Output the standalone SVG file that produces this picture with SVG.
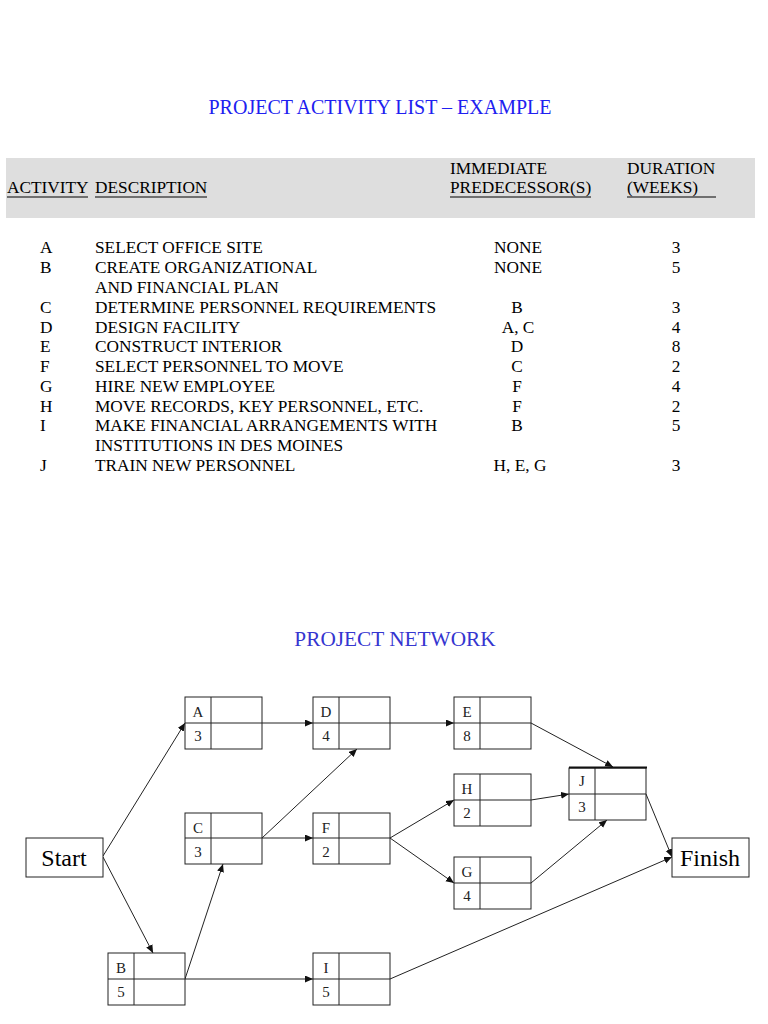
<svg xmlns="http://www.w3.org/2000/svg" width="768" height="1024" viewBox="0 0 768 1024">
<style>
.t{font-family:"Liberation Serif","Times New Roman",serif;font-size:17.3px;fill:#000}
.title{font-family:"Liberation Serif","Times New Roman",serif;font-size:20px}
.c{text-anchor:middle}
.ul{stroke:#000;stroke-width:1}
.box{fill:#fff;stroke:#222;stroke-width:1}
.div{stroke:#222;stroke-width:1;fill:none}
.nl{font-family:"Liberation Serif","Times New Roman",serif;font-size:15px;fill:#222;text-anchor:middle}
.big{font-family:"Liberation Serif","Times New Roman",serif;font-size:24px;fill:#000;text-anchor:middle}
.edge{stroke:#222;stroke-width:1;fill:none;marker-end:url(#arr)}
</style>
<defs>
<marker id="arr" markerUnits="userSpaceOnUse" markerWidth="9" markerHeight="8" refX="8" refY="3.5" orient="auto">
<path d="M0,0 L8,3.5 L0,7 Z" fill="#111"/>
</marker>
</defs>
<rect width="768" height="1024" fill="#fff"/>

<g id="table">
<text class="title c" x="380" y="114" fill="#2020f0">PROJECT ACTIVITY LIST – EXAMPLE</text>
<rect x="6" y="158" width="749" height="60" fill="#dedede"/>
<text class="t" x="7" y="193">ACTIVITY</text>
<text class="t" x="95" y="193">DESCRIPTION</text>
<text class="t" x="450" y="174">IMMEDIATE</text>
<text class="t" x="450" y="193">PREDECESSOR(S)</text>
<text class="t" x="627" y="174">DURATION</text>
<text class="t" x="627" y="193">(WEEKS)</text>
<line class="ul" x1="7" y1="197" x2="88" y2="197"/>
<line class="ul" x1="95" y1="197" x2="207" y2="197"/>
<line class="ul" x1="450" y1="197" x2="591" y2="197"/>
<line class="ul" x1="627" y1="197" x2="716" y2="197"/>

<text class="t" x="40" y="253">A</text><text class="t" x="95" y="253">SELECT OFFICE SITE</text><text class="t c" x="518" y="253">NONE</text><text class="t c" x="676" y="253">3</text>
<text class="t" x="40" y="273">B</text><text class="t" x="95" y="273">CREATE ORGANIZATIONAL</text><text class="t c" x="518" y="273">NONE</text><text class="t c" x="676" y="273">5</text>
<text class="t" x="95" y="293">AND FINANCIAL PLAN</text>
<text class="t" x="40" y="312.5">C</text><text class="t" x="95" y="312.5">DETERMINE PERSONNEL REQUIREMENTS</text><text class="t c" x="517" y="312.5">B</text><text class="t c" x="676" y="312.5">3</text>
<text class="t" x="40" y="332.5">D</text><text class="t" x="95" y="332.5">DESIGN FACILITY</text><text class="t c" x="518" y="332.5">A, C</text><text class="t c" x="676" y="332.5">4</text>
<text class="t" x="40" y="352">E</text><text class="t" x="95" y="352">CONSTRUCT INTERIOR</text><text class="t c" x="517" y="352">D</text><text class="t c" x="676" y="352">8</text>
<text class="t" x="40" y="372">F</text><text class="t" x="95" y="372">SELECT PERSONNEL TO MOVE</text><text class="t c" x="517" y="372">C</text><text class="t c" x="676" y="372">2</text>
<text class="t" x="40" y="391.5">G</text><text class="t" x="95" y="391.5">HIRE NEW EMPLOYEE</text><text class="t c" x="517" y="391.5">F</text><text class="t c" x="676" y="391.5">4</text>
<text class="t" x="40" y="411.5">H</text><text class="t" x="95" y="411.5">MOVE RECORDS, KEY PERSONNEL, ETC.</text><text class="t c" x="517" y="411.5">F</text><text class="t c" x="676" y="411.5">2</text>
<text class="t" x="40" y="431">I</text><text class="t" x="95" y="431">MAKE FINANCIAL ARRANGEMENTS WITH</text><text class="t c" x="517" y="431">B</text><text class="t c" x="676" y="431">5</text>
<text class="t" x="95" y="451">INSTITUTIONS IN DES MOINES</text>
<text class="t" x="40" y="471">J</text><text class="t" x="95" y="471">TRAIN NEW PERSONNEL</text><text class="t c" x="520" y="471">H, E, G</text><text class="t c" x="676" y="471">3</text>
</g>

<text class="title c" x="395" y="646" fill="#3535d0" style="font-size:21.3px">PROJECT NETWORK</text>

<g id="connectors">
<line class="edge" x1="103" y1="856" x2="185" y2="723"/>
<line class="edge" x1="103" y1="857" x2="153" y2="953"/>
<line class="edge" x1="185" y1="979" x2="223" y2="864"/>
<line class="edge" x1="185" y1="979" x2="313" y2="979"/>
<line class="edge" x1="262" y1="723" x2="313" y2="723"/>
<line class="edge" x1="262" y1="838" x2="357" y2="749"/>
<line class="edge" x1="262" y1="838" x2="313" y2="838"/>
<line class="edge" x1="390" y1="723" x2="454" y2="723"/>
<line class="edge" x1="390" y1="838" x2="454" y2="800"/>
<line class="edge" x1="390" y1="838" x2="454" y2="883"/>
<line class="edge" x1="531" y1="723" x2="613" y2="767"/>
<line class="edge" x1="531" y1="800" x2="569" y2="794"/>
<line class="edge" x1="531" y1="883" x2="607" y2="820"/>
<line class="edge" x1="646" y1="794" x2="672" y2="857"/>
<line class="edge" x1="390" y1="979" x2="672" y2="857"/>
</g>

<g id="start"><rect class="box" x="26" y="838" width="77" height="39"/><text class="big" x="64" y="866">Start</text></g>
<g id="finish"><rect class="box" x="672" y="838" width="77" height="39"/><text class="big" x="710" y="866">Finish</text></g>

<g id="nodeA"><rect class="box" x="185" y="697" width="77" height="52"/><path class="div" d="M211,697V749M185,723H262"/><text class="nl" x="198" y="717">A</text><text class="nl" x="198" y="741">3</text></g>
<g id="nodeD"><rect class="box" x="313" y="697" width="77" height="52"/><path class="div" d="M339,697V749M313,723H390"/><text class="nl" x="326" y="717">D</text><text class="nl" x="326" y="741">4</text></g>
<g id="nodeE"><rect class="box" x="454" y="697" width="77" height="52"/><path class="div" d="M480,697V749M454,723H531"/><text class="nl" x="467" y="717">E</text><text class="nl" x="467" y="741">8</text></g>
<g id="nodeC"><rect class="box" x="185" y="813" width="77" height="51"/><path class="div" d="M211,813V864M185,838H262"/><text class="nl" x="198" y="833">C</text><text class="nl" x="198" y="857">3</text></g>
<g id="nodeF"><rect class="box" x="313" y="813" width="77" height="51"/><path class="div" d="M339,813V864M313,838H390"/><text class="nl" x="326" y="833">F</text><text class="nl" x="326" y="857">2</text></g>
<g id="nodeH"><rect class="box" x="454" y="774" width="77" height="52"/><path class="div" d="M480,774V826M454,800H531"/><text class="nl" x="467" y="794">H</text><text class="nl" x="467" y="818">2</text></g>
<g id="nodeG"><rect class="box" x="454" y="857" width="77" height="52"/><path class="div" d="M480,857V909M454,883H531"/><text class="nl" x="467" y="877">G</text><text class="nl" x="467" y="901">4</text></g>
<g id="nodeJ"><rect class="box" x="569" y="768" width="77" height="52"/><path class="div" d="M595,768V820M569,794H646"/><line x1="569" y1="767.5" x2="647" y2="767.5" stroke="#111" stroke-width="2"/><text class="nl" x="582" y="786">J</text><text class="nl" x="582" y="812">3</text></g>
<g id="nodeB"><rect class="box" x="108" y="953" width="77" height="52"/><path class="div" d="M134,953V1005M108,979H185"/><text class="nl" x="121" y="973">B</text><text class="nl" x="121" y="997">5</text></g>
<g id="nodeI"><rect class="box" x="313" y="953" width="77" height="52"/><path class="div" d="M339,953V1005M313,979H390"/><text class="nl" x="326" y="973">I</text><text class="nl" x="326" y="997">5</text></g>
</svg>
